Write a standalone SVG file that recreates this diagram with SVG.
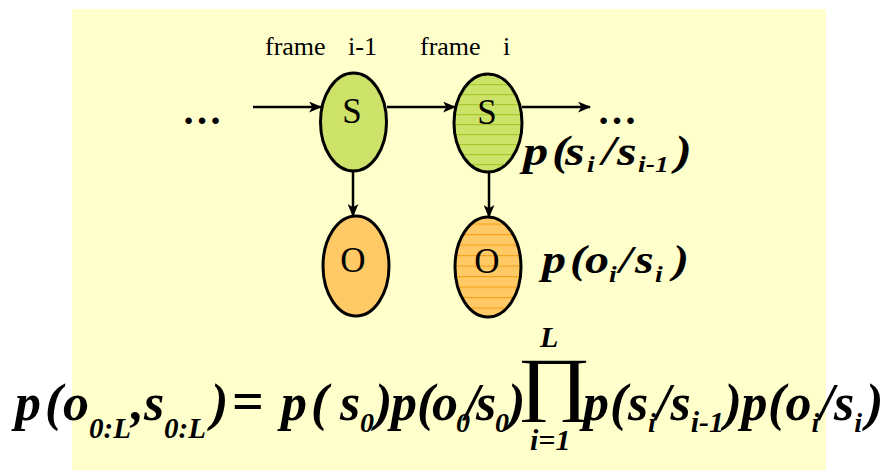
<svg xmlns="http://www.w3.org/2000/svg" width="891" height="470" viewBox="0 0 891 470">
<defs>
<style>
.lbl{font-family:"Liberation Serif","Times New Roman",serif;font-size:26px;fill:#000}
.node{stroke:#000;stroke-width:3}
.nl{font-family:"Liberation Serif","Times New Roman",serif;font-size:35px;fill:#000;text-anchor:middle}
.m{font-family:"Liberation Serif","Times New Roman",serif;font-weight:bold;font-style:italic;fill:#000}
.sb{font-size:29px}
.s1{font-size:28px}
.conn{stroke:#000;stroke-width:2.5;fill:none;marker-end:url(#ah)}
</style>
<marker id="ah" viewBox="0 0 12 10" refX="11" refY="5" markerWidth="13" markerHeight="11" markerUnits="userSpaceOnUse" orient="auto">
<path d="M0,0 L12,5 L0,10 L3,5 Z" fill="#000"/>
</marker>
<pattern id="gl" width="10" height="10" patternUnits="userSpaceOnUse" y="4">
<rect width="10" height="10" fill="#CDE268"/>
<rect y="0" width="10" height="1.2" fill="#A8C82E"/>
</pattern>
<pattern id="ol" width="10" height="10.5" patternUnits="userSpaceOnUse" y="3">
<rect width="10" height="10.5" fill="#FFC966"/>
<rect y="0" width="10" height="1.2" fill="#F5A21E"/>
</pattern>
</defs>
<rect x="72" y="9" width="754" height="461" fill="#FFFFCC"/>

<g id="connectors">
<line class="conn" x1="253" y1="107" x2="321" y2="107"/>
<line class="conn" x1="387" y1="107" x2="455" y2="107"/>
<line class="conn" x1="522" y1="107" x2="590" y2="107"/>
<line class="conn" x1="353" y1="138" x2="353" y2="216"/>
<line class="conn" x1="489" y1="138" x2="489" y2="217"/>
</g>

<g id="dots-left"><text class="m" x="182" y="124" style="font-size:40px;font-style:normal">…</text></g>
<g id="dots-right"><text class="m" x="597" y="124" style="font-size:40px;font-style:normal">…</text></g>

<g id="frame-prev"><text class="lbl" x="265" y="55">frame</text><text class="lbl" x="348" y="55">i-1</text></g>
<g id="frame-cur"><text class="lbl" x="420" y="55">frame</text><text class="lbl" x="503" y="55">i</text></g>

<g id="s1"><ellipse class="node" cx="353.5" cy="122" rx="33" ry="49" fill="#CDE268"/><text class="nl" x="352" y="123">S</text></g>
<g id="s2"><ellipse class="node" cx="488" cy="123" rx="34" ry="49" fill="url(#gl)"/><text class="nl" x="487" y="124">S</text></g>
<g id="o1"><ellipse class="node" cx="356" cy="266" rx="33" ry="50" fill="#FFC966"/><text class="nl" x="353" y="272">O</text></g>
<g id="o2"><ellipse class="node" cx="488" cy="267" rx="33" ry="50" fill="url(#ol)"/><text class="nl" x="487" y="273">O</text></g>

<g id="label-trans">
<text class="m" transform="scale(1.2,1)" style="font-size:42px">
<tspan x="435.8" y="165">p</tspan><tspan x="460" y="165">(</tspan><tspan x="470.8" y="165">s</tspan><tspan x="489.2" y="172" style="font-size:23px">i</tspan><tspan x="501.7" y="165">/</tspan><tspan x="514.2" y="165">s</tspan><tspan x="531.7" y="172" style="font-size:23px">i-1</tspan><tspan x="562.5" y="165">)</tspan>
</text>
</g>
<g id="label-emit">
<text class="m" transform="scale(1.2,1)" style="font-size:40px">
<tspan x="451.7" y="273">p</tspan><tspan x="475" y="273">(</tspan><tspan x="487.5" y="273">o</tspan><tspan x="507.5" y="282" style="font-size:23px">i</tspan><tspan x="516" y="273">/</tspan><tspan x="529.2" y="273">s</tspan><tspan x="545.8" y="282" style="font-size:23px">i</tspan><tspan x="560.8" y="273">)</tspan>
</text>
</g>

<g id="formula">
<text class="m" style="font-size:52px">
<tspan x="15" y="420">p</tspan><tspan x="45" y="420">(</tspan><tspan x="63" y="420">o</tspan><tspan class="sb" x="89" y="438">0:L</tspan><tspan x="131" y="420">,</tspan><tspan x="144" y="420">s</tspan><tspan class="sb" x="164" y="438">0:L</tspan><tspan x="211" y="420">)</tspan><tspan x="232" y="420" style="font-style:normal;font-size:56px">=</tspan><tspan x="281" y="420">p</tspan><tspan x="311" y="420">(</tspan><tspan x="340" y="420">s</tspan><tspan class="s1" x="360" y="432">0</tspan><tspan x="375" y="420">)</tspan><tspan x="391" y="420">p</tspan><tspan x="417" y="420">(</tspan><tspan x="432" y="420">o</tspan><tspan class="s1" x="456" y="432">0</tspan><tspan x="465" y="420">/</tspan><tspan x="476" y="420">s</tspan><tspan class="s1" x="495" y="432">0</tspan><tspan x="508" y="420">)</tspan><tspan x="583" y="420">p</tspan><tspan x="610" y="420">(</tspan><tspan x="628" y="420">s</tspan><tspan class="s1" x="648" y="432">i</tspan><tspan x="656" y="420">/</tspan><tspan x="670.5" y="420">s</tspan><tspan class="s1" x="690.7" y="432" style="font-size:30px">i-1</tspan><tspan x="724.5" y="420">)</tspan><tspan x="741.5" y="420">p</tspan><tspan x="768" y="420">(</tspan><tspan x="785.5" y="420">o</tspan><tspan class="s1" x="811.5" y="432">i</tspan><tspan x="819.5" y="420">/</tspan><tspan x="834" y="420">s</tspan><tspan class="s1" x="854.3" y="432">i</tspan><tspan x="866" y="420">)</tspan>
</text>
<text class="m" x="540" y="347" style="font-size:30px">L</text>
<text class="m" x="530" y="450" style="font-size:30px">i=1</text>
<text x="0" y="0" transform="translate(517,407) scale(1.5,1.175)" style="font-family:'Liberation Serif','Times New Roman',serif;font-size:60px;fill:#000">∏</text>
</g>
</svg>
